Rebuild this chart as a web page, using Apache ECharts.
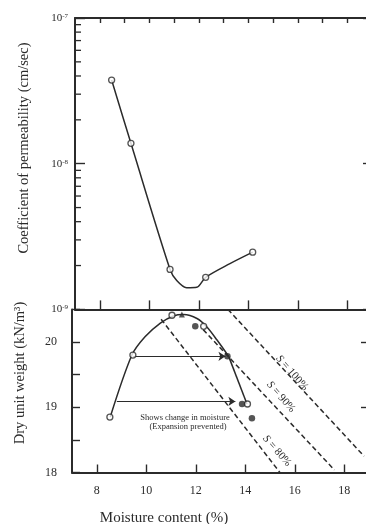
<!DOCTYPE html>
<html>
<head>
<meta charset="utf-8">
<script src="https://cdn.jsdelivr.net/npm/echarts@6/dist/echarts.min.js"></script>
<style>html,body{margin:0;padding:0;background:#fff}#c{width:366px;height:524px}</style>
</head>
<body>
<div id="c"></div>
<script>
// ---- data ----
const xTickLabels = [8, 10, 12, 14, 16, 18];
const xTopTicks = [8, 9, 10, 11, 12, 13, 14, 15, 16, 17, 18];
const gdLabelValues = [18, 19, 20];
const gdRightTicks = [19, 20];
const kMinorTicks = [2e-9, 3e-9, 4e-9, 5e-9, 6e-9, 7e-9, 8e-9, 9e-9, 2e-8, 3e-8, 4e-8, 5e-8, 6e-8, 7e-8, 8e-8, 9e-8];

// permeability (top panel)
const permW = [8.48, 9.26, 10.84, 12.28, 14.18];
const permK = [3.75e-8, 1.38e-8, 1.88e-9, 1.66e-9, 2.47e-9];
const permCurveW = [8.48, 9.26, 10.84, 11.11, 11.51, 11.92, 12.28, 13.26, 14.18];
const permCurveK = [3.75e-8, 1.38e-8, 1.88e-9, 1.58e-9, 1.41e-9, 1.42e-9, 1.66e-9, 2.06e-9, 2.47e-9];

// compaction curve (bottom panel)
const compW = [8.545, 9.42, 9.95, 10.57, 11.10, 11.51, 12.05, 12.45, 12.86, 13.33];
const compGd = [18.85, 19.80, 20.08, 20.29, 20.40, 20.42, 20.36, 20.23, 20.03, 19.78];
const afterW = [13.33, 14.07];
const afterGd = [19.78, 19.05];

// saturation lines
const s100W = [13.3, 18.8];  const s100Gd = [20.5, 18.25];
const s90W = [12.3, 17.6];   const s90Gd = [20.19, 18.04];
const s80W = [10.6, 15.4];   const s80Gd = [20.35, 18.0];

// moisture-change arrows
const arrowStartW = [9.46, 8.81];
const arrowEndW = [13.2, 13.6];
const arrowGd = [19.78, 19.09];

// markers
const openW = [8.53, 9.46, 11.04, 12.32, 14.09];
const openGd = [18.85, 19.80, 20.41, 20.24, 19.05];
const filledW = [11.98, 13.28, 13.87, 14.27];
const filledGd = [20.24, 19.78, 19.05, 18.83];
const triW = [11.44];
const triGd = [20.42];

// ---- chart ----
const INK = '#2b2b2b';
const FONT = '"Liberation Serif", "DejaVu Serif", serif';
const zip = (a, b) => a.map((v, i) => [v, b[i]]);
const axLine = { show: true, onZero: false, lineStyle: { color: INK, width: 2 } };
const tickStyle = { color: INK, width: 1.4 };

const chart = echarts.init(document.getElementById('c'), null, { renderer: 'canvas' });
chart.setOption({
  animation: false,
  backgroundColor: '#ffffff',
  grid: [
    { left: 75, top: 18, width: 297, height: 291.4, outerBoundsMode: 'none', containLabel: false },
    { left: 72, top: 309.4, width: 297, height: 163.1, outerBoundsMode: 'none', containLabel: false }
  ],
  xAxis: [
    { gridIndex: 0, type: 'value', min: 7, max: 19, position: 'bottom', axisLine: axLine,
      axisTick: { inside: true, length: 9, customValues: xTickLabels, lineStyle: tickStyle },
      axisLabel: { show: false }, splitLine: { show: false } },
    { gridIndex: 0, type: 'value', min: 7, max: 19, position: 'top', axisLine: axLine,
      axisTick: { inside: true, length: 5, customValues: xTopTicks, lineStyle: tickStyle },
      axisLabel: { show: false }, splitLine: { show: false } },
    { gridIndex: 1, type: 'value', min: 7, max: 19, position: 'bottom', axisLine: axLine,
      axisTick: { inside: true, length: 8, customValues: xTickLabels, lineStyle: tickStyle },
      axisLabel: { customValues: xTickLabels, margin: 12, fontSize: 12, fontFamily: FONT, color: INK },
      splitLine: { show: false } }
  ],
  yAxis: [
    { gridIndex: 0, type: 'log', logBase: 10, min: 1e-9, max: 1e-7, interval: 1, position: 'left', axisLine: axLine,
      axisTick: { inside: true, length: 10, lineStyle: tickStyle },
      minorTick: { show: false },
      axisLabel: {
        margin: 7,
        formatter: v => '{b|10}{s|' + Math.round(Math.log10(v)) + '}',
        rich: {
          b: { fontSize: 11, fontFamily: FONT, color: INK },
          s: { fontSize: 7, fontFamily: FONT, color: INK, verticalAlign: 'top' }
        }
      },
      splitLine: { show: false }, minorSplitLine: { show: false } },
    { gridIndex: 0, type: 'log', logBase: 10, min: 1e-9, max: 1e-7, interval: 1, position: 'right', axisLine: axLine,
      axisTick: { inside: true, length: 9, lineStyle: tickStyle },
      minorTick: { show: false },
      axisLabel: { show: false }, splitLine: { show: false } },
    { gridIndex: 1, type: 'value', min: 18, max: 20.5, interval: 0.5, position: 'left', axisLine: axLine,
      axisTick: { inside: true, length: 8, lineStyle: tickStyle },
      axisLabel: { customValues: gdLabelValues, margin: 15, fontSize: 12, fontFamily: FONT, color: INK },
      splitLine: { show: false } },
    { gridIndex: 1, type: 'value', min: 18, max: 20.5, position: 'right', axisLine: axLine,
      axisTick: { inside: true, length: 8, customValues: gdRightTicks, lineStyle: tickStyle },
      axisLabel: { show: false }, splitLine: { show: false } }
  ],
  series: [
    { type: 'custom', xAxisIndex: 0, yAxisIndex: 0, silent: true,
      data: kMinorTicks.map(k => [7, k]),
      encode: { x: 0, y: 1 },
      renderItem: (params, api) => {
        const p = api.coord([api.value(0), api.value(1)]);
        return { type: 'line', shape: { x1: p[0], y1: p[1], x2: p[0] + 6, y2: p[1] },
                 style: { stroke: INK, lineWidth: 1.3 } };
      } },
    { type: 'line', xAxisIndex: 0, yAxisIndex: 0, data: zip(permCurveW, permCurveK), smooth: 0.3,
      symbol: 'none', lineStyle: { color: INK, width: 1.5 }, z: 3 },
    { type: 'scatter', xAxisIndex: 0, yAxisIndex: 0, data: zip(permW, permK), symbol: 'circle', symbolSize: 6,
      itemStyle: { color: '#fff', borderColor: INK, borderWidth: 1.3 }, z: 5 },

    { type: 'line', xAxisIndex: 2, yAxisIndex: 2, data: zip(s100W, s100Gd), symbol: 'none',
      lineStyle: { color: INK, width: 1.5, type: [5, 3] } },
    { type: 'line', xAxisIndex: 2, yAxisIndex: 2, data: zip(s90W, s90Gd), symbol: 'none',
      lineStyle: { color: INK, width: 1.5, type: [5, 3] } },
    { type: 'line', xAxisIndex: 2, yAxisIndex: 2, data: zip(s80W, s80Gd), symbol: 'none',
      lineStyle: { color: INK, width: 1.5, type: [5, 3] } },
    { type: 'line', xAxisIndex: 2, yAxisIndex: 2, data: zip(compW, compGd), smooth: 0.3, symbol: 'none',
      lineStyle: { color: INK, width: 1.5 }, z: 3 },
    { type: 'line', xAxisIndex: 2, yAxisIndex: 2, data: zip(afterW, afterGd), symbol: 'none',
      lineStyle: { color: INK, width: 1.5 }, z: 3 },
    { type: 'lines', coordinateSystem: 'cartesian2d', xAxisIndex: 2, yAxisIndex: 2,
      symbol: ['none', 'arrow'], symbolSize: 7,
      lineStyle: { color: INK, width: 1.2, opacity: 1 },
      data: arrowGd.map((g, i) => ({ coords: [[arrowStartW[i], g], [arrowEndW[i], g]] })), z: 4 },
    { type: 'scatter', xAxisIndex: 2, yAxisIndex: 2, data: zip(openW, openGd), symbol: 'circle', symbolSize: 6,
      itemStyle: { color: '#fff', borderColor: INK, borderWidth: 1.3 }, z: 5 },
    { type: 'scatter', xAxisIndex: 2, yAxisIndex: 2, data: zip(filledW, filledGd), symbol: 'circle', symbolSize: 6.5,
      itemStyle: { color: INK }, z: 6 },
    { type: 'scatter', xAxisIndex: 2, yAxisIndex: 2, data: zip(triW, triGd), symbol: 'triangle', symbolSize: 6,
      itemStyle: { color: INK }, z: 6 }
  ],
  graphic: [
    { type: 'text', x: 24, y: 148, rotation: Math.PI / 2,
      style: { text: 'Coefficient of permeability (cm/sec)', fontSize: 14.5, fontFamily: FONT, fill: INK, align: 'center', verticalAlign: 'middle' } },
    { type: 'text', x: 20, y: 373, rotation: Math.PI / 2,
      style: { text: 'Dry unit weight (kN/m³)', fontSize: 14.5, fontFamily: FONT, fill: INK, align: 'center', verticalAlign: 'middle' } },
    { type: 'text', x: 164, y: 518,
      style: { text: 'Moisture content (%)', fontSize: 15, fontFamily: FONT, fill: INK, align: 'center', verticalAlign: 'middle' } },
    { type: 'text', x: 185, y: 418,
      style: { text: 'Shows change in moisture', fontSize: 8.5, fontFamily: FONT, fill: INK, align: 'center', verticalAlign: 'middle' } },
    { type: 'text', x: 188, y: 426.5,
      style: { text: '(Expansion prevented)', fontSize: 8.5, fontFamily: FONT, fill: INK, align: 'center', verticalAlign: 'middle' } },
    { type: 'text', x: 292, y: 373, rotation: -0.85,
      style: { text: '{i|S} = 100%', fontSize: 11, fontFamily: FONT, fill: INK, align: 'center', verticalAlign: 'middle',
               rich: { i: { fontSize: 11, fontFamily: FONT, fontStyle: 'italic', fill: INK } } } },
    { type: 'text', x: 281, y: 397, rotation: -0.85,
      style: { text: '{i|S} = 90%', fontSize: 11, fontFamily: FONT, fill: INK, align: 'center', verticalAlign: 'middle',
               rich: { i: { fontSize: 11, fontFamily: FONT, fontStyle: 'italic', fill: INK } } } },
    { type: 'text', x: 277, y: 451, rotation: -0.85,
      style: { text: '{i|S} = 80%', fontSize: 11, fontFamily: FONT, fill: INK, align: 'center', verticalAlign: 'middle',
               rich: { i: { fontSize: 11, fontFamily: FONT, fontStyle: 'italic', fill: INK } } } }
  ]
});
</script>
</body>
</html>
